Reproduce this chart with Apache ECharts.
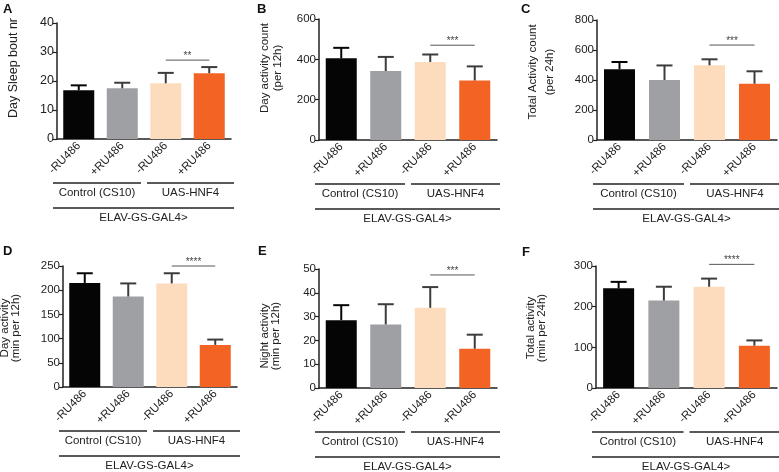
<!DOCTYPE html>
<html><head><meta charset="utf-8">
<script src="https://cdn.jsdelivr.net/npm/echarts@6/dist/echarts.min.js"></script>
<style>html,body{margin:0;padding:0;background:#fff}#c{width:779px;height:472px}</style>
</head><body><div id="c"></div>
<script>
// ---- data ----
const categories = ['-RU486', '+RU486', '-RU486', '+RU486'];
const groupLabels = ['Control (CS10)', 'UAS-HNF4'];
const driverLabel = 'ELAV-GS-GAL4>';
const panelLetters = ['A', 'B', 'C', 'D', 'E', 'F'];
const yNames = [
  'Day Sleep bout nr',
  'Day activity count\n(per 12h)',
  'Total Activity count\n(per 24h)',
  'Day activity\n(min per 12h)',
  'Night activity\n(min per 12h)',
  'Total activity\n(min per 24h)'
];
const yMax = [40, 600, 800, 250, 50, 300];
const yStep = [10, 200, 200, 50, 10, 100];

const meanA = [16.8, 17.5, 19.2, 22.7];
const errTopA = [18.5, 19.4, 22.8, 24.8];
const meanB = [405, 342, 387, 295];
const errTopB = [457, 412, 424, 365];
const meanC = [472, 400, 498, 375];
const errTopC = [520, 497, 538, 458];
const meanD = [215, 187, 214, 87];
const errTopD = [235, 214, 235, 98];
const meanE = [28.5, 26.7, 33.7, 16.5];
const errTopE = [34.8, 35.2, 42.4, 22.4];
const meanF = [245, 215, 249, 104];
const errTopF = [261, 249, 269, 117];

const sigLevel = [27.2, 470, 633, 250, 47.5, 304];
const sigStars = ['**', '***', '***', '****', '***', '****'];

const means = [meanA, meanB, meanC, meanD, meanE, meanF];
const errTops = [errTopA, errTopB, errTopC, errTopD, errTopE, errTopF];

// ---- styles / layout ----
const barColors = ['#050505', '#9fa0a4', '#fddcbe', '#f26324'];
const errColors = ['#050505', '#3c3c3c', '#3c3c3c', '#3c3c3c'];
const FONT = '"Liberation Sans", Arial, sans-serif';
const INK = '#222';
const grids = [
  {left: 57, top: 23, width: 174, height: 116},
  {left: 319, top: 19, width: 178, height: 121},
  {left: 597, top: 20, width: 180, height: 120},
  {left: 63, top: 266, width: 174, height: 121},
  {left: 319, top: 269, width: 178, height: 119},
  {left: 596, top: 266, width: 181, height: 122}
];
const nameOffsets = [ // [dx from grid left, dy from grid top, lineHeight]
  [-43, 45, 14], [-48, 49, 13], [-56, 52, 17],
  [-53, 62, 11], [-49, 67, 11], [-60, 62, 11]
];
const letterPos = [[3, 3], [257, 3], [521, 3], [3, 245], [258, 245], [522, 246]];

const option = {
  animation: false,
  textStyle: {fontFamily: FONT},
  grid: [], xAxis: [], yAxis: [], series: [], graphic: []
};

grids.forEach((g, p) => {
  option.grid.push({left: g.left, top: g.top, width: g.width, height: g.height, containLabel: false});
  option.xAxis.push({
    type: 'category', gridIndex: p, data: categories,
    axisLine: {lineStyle: {color: INK, width: 1.5}},
    axisTick: {alignWithLabel: true, length: 4, lineStyle: {color: INK, width: 1.2}},
    axisLabel: {rotate: 45, interval: 0, fontSize: 11.5, color: INK, margin: 5, fontFamily: FONT}
  });
  option.yAxis.push({
    type: 'value', gridIndex: p, min: 0, max: yMax[p], interval: yStep[p],
    axisLine: {show: true, lineStyle: {color: INK, width: 1.5}},
    axisTick: {show: true, length: 4, lineStyle: {color: INK, width: 1.2}},
    splitLine: {show: false},
    axisLabel: {fontSize: p === 0 ? 12.5 : 11.5, color: INK, margin: 3, fontFamily: FONT}
  });
  option.series.push({
    type: 'bar', xAxisIndex: p, yAxisIndex: p, barWidth: 31,
    data: means[p],
    itemStyle: {color: (prm) => barColors[prm.dataIndex]},
    z: 2
  });
  option.series.push({
    type: 'custom', xAxisIndex: p, yAxisIndex: p, z: 3,
    data: means[p].map((m, i) => [i, m, errTops[p][i]]),
    encode: {x: 0, y: [1, 2]},
    renderItem: (params, api) => {
      const i = api.value(0);
      const p0 = api.coord([i, api.value(1)]);
      const p1 = api.coord([i, api.value(2)]);
      const style = {stroke: errColors[i], lineWidth: 2};
      return {type: 'group', children: [
        {type: 'line', shape: {x1: p0[0], y1: p0[1], x2: p1[0], y2: p1[1]}, style},
        {type: 'line', shape: {x1: p1[0] - 8, y1: p1[1], x2: p1[0] + 8, y2: p1[1]}, style}
      ]};
    }
  });
  option.series.push({
    type: 'custom', xAxisIndex: p, yAxisIndex: p, z: 3, clip: false,
    data: [[2, 3, sigLevel[p]]],
    encode: {x: [0, 1], y: 2},
    renderItem: (params, api) => {
      const a = api.coord([api.value(0), api.value(2)]);
      const b = api.coord([api.value(1), api.value(2)]);
      return {type: 'group', children: [
        {type: 'line', shape: {x1: a[0], y1: a[1], x2: b[0], y2: b[1]}, style: {stroke: '#555', lineWidth: 1}},
        {type: 'text', style: {text: sigStars[p], x: (a[0] + b[0]) / 2, y: a[1] + 1, align: 'center', verticalAlign: 'bottom', fontSize: 10, fill: '#444', fontFamily: FONT}}
      ]};
    }
  });

  // group annotations below the axis
  const L = g.left, R = g.left + g.width, B = g.top + g.height, mid = L + g.width / 2;
  const lineStyle = {stroke: INK, lineWidth: 1.5};
  const segs = [[L - 4, mid - 3, B + 44], [mid + 3, R + 3, B + 44], [L - 4, R + 3, B + 69]];
  segs.forEach(s => option.graphic.push({type: 'line', shape: {x1: s[0], y1: s[2], x2: s[1], y2: s[2]}, style: lineStyle, silent: true}));
  const texts = [[groupLabels[0], (L - 4 + mid - 3) / 2, B + 54], [groupLabels[1], (mid + 3 + R + 3) / 2, B + 54], [driverLabel, (L - 4 + R + 3) / 2, B + 79]];
  texts.forEach(t => option.graphic.push({type: 'text', x: t[1], y: t[2], style: {text: t[0], align: 'center', verticalAlign: 'middle', fontSize: 11.5, fill: INK, fontFamily: FONT}, silent: true}));
  // y-axis name
  const no = nameOffsets[p];
  option.graphic.push({type: 'text', x: L + no[0], y: g.top + no[1], rotation: Math.PI / 2,
    style: {text: yNames[p], align: 'center', verticalAlign: 'middle', fontSize: p === 0 ? 12.5 : 11.5, lineHeight: no[2], fill: INK, fontFamily: FONT}, silent: true});
  // panel letter
  option.graphic.push({type: 'text', x: letterPos[p][0], y: letterPos[p][1],
    style: {text: panelLetters[p], fontSize: 13, fontWeight: 'bold', fill: '#111', fontFamily: FONT, verticalAlign: 'top'}, silent: true});
});

const chart = echarts.init(document.getElementById('c'), null, {renderer: 'canvas'});
chart.setOption(option);
</script>
</body></html>
